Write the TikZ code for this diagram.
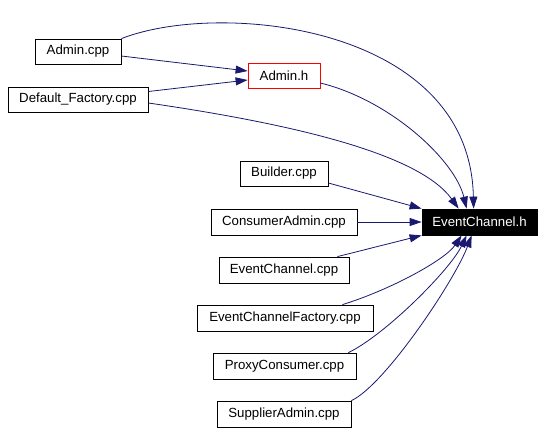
\documentclass[tikz,border=0pt]{standalone}
\usepackage{fontspec}
\setmainfont{Liberation Sans}
\usetikzlibrary{arrows.meta}
\definecolor{edgeblue}{RGB}{25,25,112}
\begin{document}
\begin{tikzpicture}[x=1bp,y=-1bp,
  box/.style={draw=black,line width=0.8bp,fill=white,inner sep=0pt,minimum height=25bp,
    font=\fontsize{13.3}{15}\selectfont,text=black},
  edge/.style={draw=edgeblue,line width=0.8bp,-{Triangle[length=12bp,width=8bp,fill=edgeblue]}}]
\useasboundingbox (0,0) rectangle (544,432);
\node[box,minimum width=86bp] (admincpp) at (78,51.5) {Admin.cpp};
\node[box,draw=red,minimum width=72bp] (adminh) at (284,75.5) {Admin.h};
\node[box,minimum width=140bp] (deffac) at (78,99.5) {Default\_Factory.cpp};
\node[box,minimum width=88bp] (builder) at (284,173.5) {Builder.cpp};
\node[box,minimum width=146bp,minimum height=26bp] (consadmin) at (284,222) {ConsumerAdmin.cpp};
\node[box,fill=black,text=white,minimum width=115bp,minimum height=26bp] (ech) at (479.5,222) {EventChannel.h};
\node[box,minimum width=130bp,minimum height=26bp] (eccpp) at (284,270) {EventChannel.cpp};
\node[box,minimum width=176bp,minimum height=26bp] (ecfac) at (285,318) {EventChannelFactory.cpp};
\node[box,minimum width=143bp,minimum height=26bp] (proxy) at (284.5,366) {ProxyConsumer.cpp};
\node[box,minimum width=134bp,minimum height=26bp] (supp) at (284,414) {SupplierAdmin.cpp};

\draw[edge] (admincpp.north east) .. controls (220,0) and (470,25) .. ([xshift=52bp]ech.north west);
\draw[edge] ([yshift=-4.5bp]admincpp.east) -- ([yshift=4.5bp]adminh.west);
\draw[edge] ([yshift=8bp]deffac.east) -- ([yshift=-4.5bp]adminh.west);
\draw[edge] ([yshift=-3.5bp]deffac.east) .. controls (300,125) and (420,155) .. ([xshift=37bp]ech.north west);
\draw[edge] ([yshift=-7.5bp]adminh.east) .. controls (390,100) and (455,160) .. ([xshift=45bp]ech.north west);
\draw[edge] ([yshift=-9.5bp]builder.east) -- (ech.north west);
\draw[edge] (consadmin.east) -- (ech.west);
\draw[edge] ([xshift=-12bp]eccpp.north east) -- (ech.south west);
\draw[edge] ([xshift=-31bp]ecfac.north east) .. controls (390,290) and (445,260) .. ([xshift=40bp]ech.south west);
\draw[edge] ([xshift=-8bp]proxy.north east) .. controls (385,335) and (450,270) .. ([xshift=45bp]ech.south west);
\draw[edge] (supp.north east) .. controls (385,385) and (455,280) .. ([xshift=50bp]ech.south west);
\end{tikzpicture}
\end{document}
